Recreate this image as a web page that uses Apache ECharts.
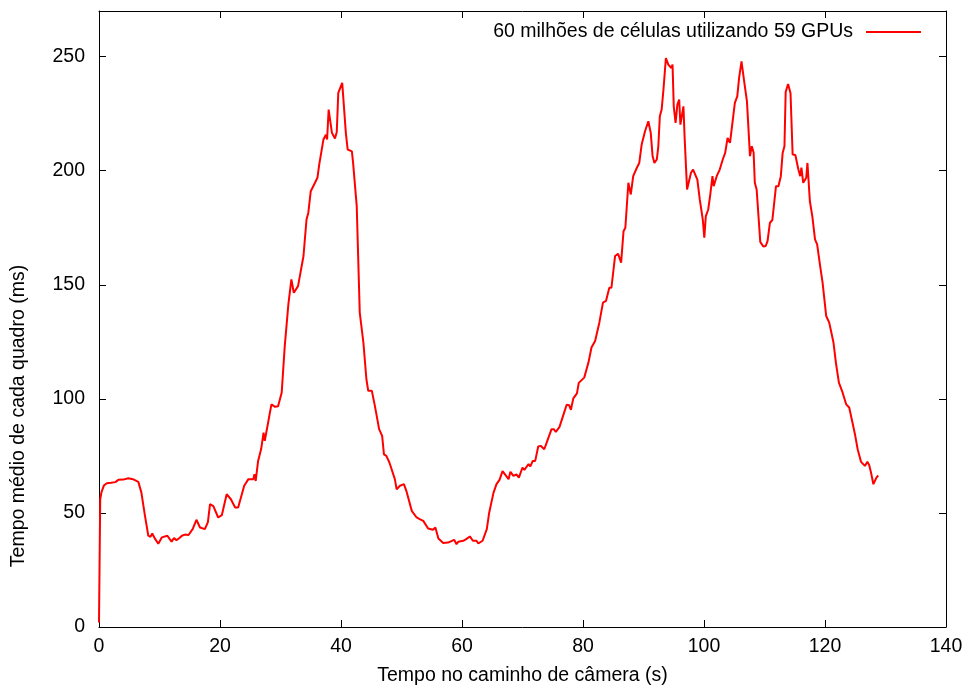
<!DOCTYPE html>
<html>
<head>
    <meta charset="utf-8">
    <title>Tempo médio de cada quadro</title>
    <style>
        *{ margin: 0; padding: 0; }
        html, body, #chart{ width: 966px; height: 691px; overflow: hidden; background: #fff; }
    </style>
</head>
<body>
    <div id="chart"></div>
    <script src="https://cdn.jsdelivr.net/npm/echarts@6/dist/echarts.min.js"></script>
    <script>
        // tempo (s) e tempo médio por quadro (ms)
        var tempo = [
            0, 0.2, 0.4, 0.8, 1.3, 2.0, 2.7, 3.2, 4.0, 4.85, 5.6, 6.5, 7.0, 7.6, 8.15, 8.5, 8.8, 9.3, 9.8,
            10.4, 11.3, 11.7, 12.0, 12.4, 12.8, 13.3, 13.7, 14.2, 14.8, 15.5, 16.1, 16.7, 17.5, 18.0, 18.35,
            18.9, 19.7, 20.3, 21.1, 21.8, 22.5, 23.0, 24.0, 24.7, 25.5, 25.7, 25.9, 26.3, 26.8, 27.2, 27.4,
            28.0, 28.5, 29.1, 29.6, 30.2, 30.7, 31.3, 31.8, 32.2, 32.9, 33.1, 33.8, 34.3, 34.6, 35.0, 35.7,
            36.1, 36.4, 36.6, 37.1, 37.5, 37.7, 37.96, 38.5, 39.0, 39.3, 39.55, 40.2, 40.8, 41.1, 41.8, 42.0,
            42.6, 43.1, 43.7, 44.2, 44.5, 45.1, 45.6, 46.3, 46.8, 47.1, 47.5, 48.0, 48.3, 48.9, 49.2, 49.75,
            50.4, 50.8, 51.7, 52.5, 53.0, 53.6, 54.4, 55.2, 55.6, 56.1, 56.9, 57.7, 58.7, 59.1, 59.4, 60.2,
            60.7, 61.3, 61.8, 62.4, 62.7, 63.4, 64.1, 64.5, 65.2, 65.7, 66.2, 66.7, 67.0, 67.7, 68.0, 68.5,
            69.0, 69.4, 70.0, 70.3, 71.0, 71.3, 71.7, 72.1, 72.6, 73.0, 73.3, 73.6, 74.1, 74.8, 75.2, 75.5,
            76.1, 76.8, 77.3, 77.7, 78.0, 78.4, 79.0, 79.3, 79.6, 80.2, 80.9, 81.4, 82.0, 82.7, 83.3, 83.8,
            84.35, 84.7, 85.3, 85.8, 86.0, 86.3, 86.7, 87.0, 87.5, 87.9, 88.3, 88.9, 89.3, 89.7, 90.25, 90.8,
            91.2, 91.5, 91.8, 92.2, 92.45, 92.7, 93.0, 93.3, 93.7, 94.1, 94.6, 94.8, 95.0, 95.3, 95.6, 95.9,
            96.1, 96.6, 96.8, 97.2, 97.5, 97.85, 98.2, 98.5, 98.9, 99.3, 99.8, 100.05, 100.3, 100.7, 101.0,
            101.4, 101.6, 102.1, 102.6, 103.1, 103.5, 103.9, 104.3, 104.6, 105.1, 105.5, 105.8, 106.2, 106.6,
            107.1, 107.6, 107.9, 108.2, 108.4, 108.7, 109.3, 109.8, 110.2, 110.5, 110.9, 111.3, 111.9, 112.3,
            112.7, 113.0, 113.3, 113.5, 113.9, 114.3, 114.65, 115.1, 115.6, 115.9, 116.1, 116.4, 116.9, 117.1,
            117.5, 117.9, 118.35, 118.7, 119.2, 119.6, 120.2, 120.7, 121.4, 121.8, 122.3, 122.9, 123.5, 124.0,
            124.6, 125.0, 125.4, 125.95, 126.6, 127.0, 127.3, 127.6, 128.0, 128.2, 128.5, 128.8
        ];
        var tempoQuadro = [
            2, 56, 59, 62, 63, 63.2, 63.5, 64.5, 64.6, 65.2, 64.8, 63.6, 59, 48.7, 40, 39.5, 41, 38.5, 36.5,
            39.3, 40, 38.5, 37.4, 39, 38, 39, 40, 40.5, 40.3, 43, 47, 43.6, 42.9, 46, 53.9,
            53, 48, 49, 58.2, 56, 52.4, 52.4, 61.9, 64.8, 64.8, 67, 64, 72.8, 78, 85.2, 81.6,
            90.3, 97.6, 96.5, 96.8, 102.8, 123, 141.4, 152.4, 146.5, 149.4, 149, 162.6, 178.6, 181.6, 191, 194.7,
            196.9, 202.7, 202.7, 213.7, 215.8, 213.7, 226.8, 216.6, 214.1, 217, 234.1, 238.5, 216.6, 209.3, 208.5, 203.4,
            184.5, 137.8, 124.7, 108.6, 103.5, 103.5, 96.9, 86.7, 83.8, 75.7, 75, 72.1, 72.5, 64.8, 60.4, 61.9,
            62.6, 59.7, 50.9, 48, 47.3, 46.5, 43.2, 42.6, 43.6, 38.8, 36.8, 37, 38.2, 36.3, 37.4, 37.8,
            38.5, 39.7, 37.8, 37.8, 36.6, 37.8, 42.9, 50.2, 58.8, 62.6, 64.5, 68.3, 67.7, 64.8, 68, 66.2,
            66.9, 65.5, 69.9, 68.8, 71.4, 70.4, 72.8, 72.8, 79.1, 79.4, 79.8, 77.9, 81.6, 86.7, 86.7, 85.5,
            87.6, 93.3, 97.4, 97.2, 95.2, 100.2, 102.4, 107, 106.7, 109.3, 115.9, 122.5, 125.4, 133.4, 142.2, 142.9,
            148.7, 148.7, 162.6, 163.6, 164, 159.7, 173.5, 175, 194.7, 189.6, 197.6, 201.3, 203.4, 211.5, 217.3, 221.7,
            216.6, 206.4, 203.4, 204.9, 210.7, 223.9, 226.8, 235.6, 249.4, 246.5, 245, 246.5, 228.2, 221, 229, 231.2,
            220.2, 228.2, 214.4, 191.8, 192.1, 199.1, 200.5, 200.5, 196.1, 187.4, 178.6, 170.6, 180.1, 183, 188.8,
            197.6, 193.2, 197.6, 200.5, 204.9, 207.8, 214.4, 212.2, 212.2, 229.7, 232.6, 240.7, 247.9, 239.9,
            230.4, 206.4, 210.7, 208, 194.7, 191.8, 168.8, 166.8, 167, 169.1, 177.2, 178.4, 193.2, 193.2,
            197.6, 207.8, 210.7, 234.5, 238, 234, 207.1, 206.9, 200.5, 197.6, 201.3, 194.7, 196.9, 203.4,
            186.6, 180.1, 169.9, 167.7, 158.2, 150.9, 136.3, 133.4, 124.7, 115.9, 107.1, 102.8, 97.6, 96.2,
            88.9, 83.8, 77.9, 72.4, 70.6, 72.4, 71, 67.7, 62.6, 62.6, 65.5, 66.4
        ];
        var nomeSerie = '60 milhões de células utilizando 59 GPUs';
        var nomeX = 'Tempo no caminho de câmera (s)';
        var nomeY = 'Tempo médio de cada quadro (ms)';

        var dados = [];
        for (var i = 0; i < tempo.length; i++) {
            dados.push([tempo[i], tempoQuadro[i]]);
        }

        var fonte = 'Liberation Sans';
        var tam = 19.5;
        var myChart = echarts.init(document.getElementById('chart'));

        var eixoX = {
            type: 'value', min: 0, max: 140, interval: 20,
            axisLine: { show: true, onZero: false, lineStyle: { color: '#000', width: 1 } },
            axisTick: { show: true, inside: true, length: 7, lineStyle: { color: '#000' } },
            splitLine: { show: false }
        };
        var eixoY = {
            type: 'value', min: 0, max: 270, interval: 50,
            axisLine: { show: true, onZero: false, lineStyle: { color: '#000', width: 1 } },
            axisTick: { show: true, inside: true, length: 7, lineStyle: { color: '#000' } },
            splitLine: { show: false }
        };

        var option = {
            animation: false,
            backgroundColor: '#fff',
            textStyle: { fontFamily: fonte },
            grid: { left: 99, right: 20, top: 11, bottom: 63 },
            legend: {
                right: 40, top: 17,
                align: 'right',
                icon: 'rect',
                itemWidth: 55, itemHeight: 2,
                textStyle: { fontFamily: fonte, fontSize: tam, color: '#000', padding: [0, 8, 0, 0] },
                data: [nomeSerie]
            },
            xAxis: [
                Object.assign({}, eixoX, {
                    position: 'bottom',
                    name: nomeX, nameLocation: 'middle', nameGap: 39,
                    nameTextStyle: { fontFamily: fonte, fontSize: tam, color: '#000' },
                    axisLabel: { fontFamily: fonte, fontSize: tam, color: '#000', margin: 10 }
                }),
                Object.assign({}, eixoX, {
                    position: 'top',
                    axisLabel: { show: false }
                })
            ],
            yAxis: [
                Object.assign({}, eixoY, {
                    position: 'left',
                    name: nomeY, nameLocation: 'middle', nameGap: 70,
                    nameTextStyle: {
                        fontFamily: fonte, fontSize: tam, color: '#000',
                        padding: [0, 194, 0, 0]
                    },
                    axisLabel: {
                        fontFamily: fonte, fontSize: tam, color: '#000', margin: 14,
                        showMaxLabel: false,
                        formatter: function (v) { return v % 50 === 0 ? v : ''; }
                    }
                }),
                Object.assign({}, eixoY, {
                    position: 'right',
                    axisLabel: { show: false }
                })
            ],
            series: [{
                name: nomeSerie,
                type: 'line',
                data: dados,
                showSymbol: false,
                symbol: 'none',
                itemStyle: { color: '#ff0000' },
                lineStyle: { color: '#ff0000', width: 2 }
            }]
        };

        myChart.setOption(option);
    </script>
</body>
</html>
